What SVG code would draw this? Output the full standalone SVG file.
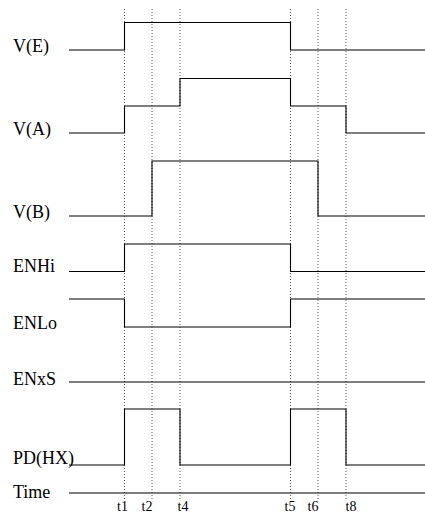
<svg xmlns="http://www.w3.org/2000/svg" width="425" height="513" viewBox="0 0 425 513">
<style>
.lbl{font-family:"Liberation Serif","Times New Roman",serif;font-size:18px;fill:#000}
.tick{font-family:"Liberation Serif","Times New Roman",serif;font-size:14px;fill:#000;text-anchor:middle}
.wave{fill:none;stroke:#000;stroke-width:1.1}
.guide{stroke:#555;stroke-width:1;stroke-dasharray:1 2;fill:none}
</style>
<rect width="425" height="513" fill="#fff"/>
<g id="guides">
<line class="guide" x1="124.5" y1="9" x2="124.5" y2="500"/>
<line class="guide" x1="152" y1="9" x2="152" y2="500"/>
<line class="guide" x1="180" y1="9" x2="180" y2="500"/>
<line class="guide" x1="290.5" y1="9" x2="290.5" y2="500"/>
<line class="guide" x1="318" y1="9" x2="318" y2="500"/>
<line class="guide" x1="346" y1="9" x2="346" y2="500"/>
</g>
<g id="sig-VE">
<text class="lbl" x="13" y="51.5">V(E)</text>
<path class="wave" d="M69 50H124.5V22.5H290.5V50H425"/>
</g>
<g id="sig-VA">
<text class="lbl" x="13" y="134.5">V(A)</text>
<path class="wave" d="M69 133H124.5V106H180V78.5H290.5V106H346V133H425"/>
</g>
<g id="sig-VB">
<text class="lbl" x="13" y="217.5">V(B)</text>
<path class="wave" d="M69 216H152V161H318V216H425"/>
</g>
<g id="sig-ENHi">
<text class="lbl" x="13" y="271.5">ENHi</text>
<path class="wave" d="M69 271.5H124.5V244H290.5V271.5H425"/>
</g>
<g id="sig-ENLo">
<text class="lbl" x="13" y="329">ENLo</text>
<path class="wave" d="M69 299H124.5V327H290.5V299H425"/>
</g>
<g id="sig-ENxS">
<text class="lbl" x="13" y="384.5">ENxS</text>
<path class="wave" d="M69 382H425"/>
</g>
<g id="sig-PDHX">
<text class="lbl" x="13" y="464">PD(HX)</text>
<path class="wave" d="M69 465H124.5V409H180V465H290.5V409H346V465H425"/>
</g>
<g id="sig-Time">
<text class="lbl" x="13" y="498">Time</text>
<path class="wave" d="M69 493H425"/>
<text class="tick" x="122.5" y="511">t1</text>
<text class="tick" x="147" y="511">t2</text>
<text class="tick" x="183" y="511">t4</text>
<text class="tick" x="290" y="511">t5</text>
<text class="tick" x="313" y="511">t6</text>
<text class="tick" x="351" y="511">t8</text>
</g>
</svg>
